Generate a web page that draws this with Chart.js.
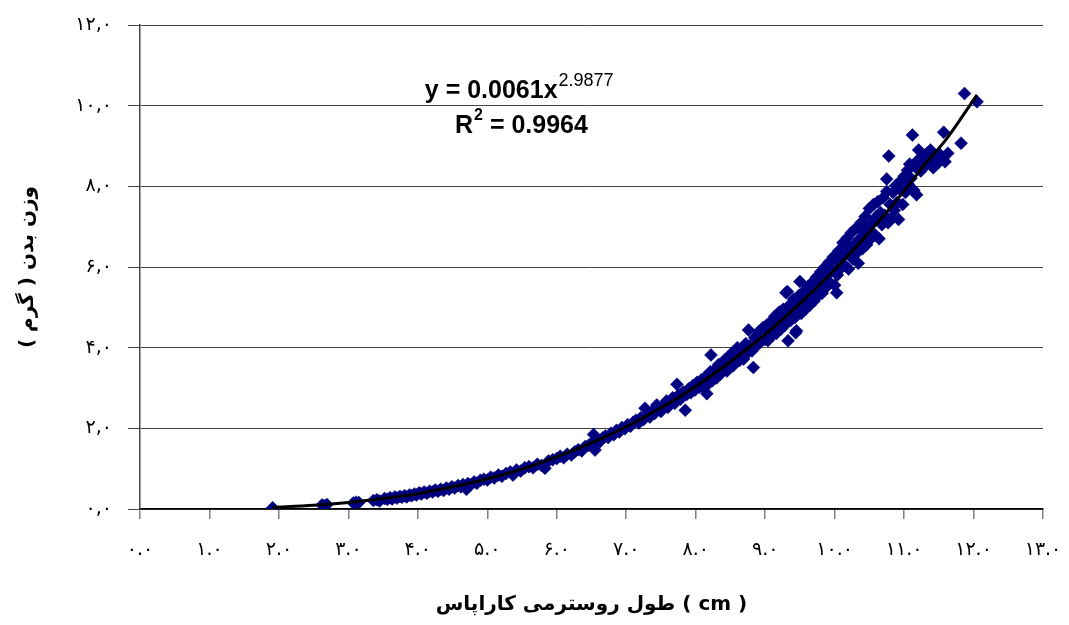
<!DOCTYPE html>
<html>
<head>
<meta charset="utf-8">
<script src="https://cdn.jsdelivr.net/npm/chart.js@4/dist/chart.umd.min.js"></script>
<style>
  html, body { margin: 0; padding: 0; background: #fff; }
  #wrap { width: 1069px; height: 625px; position: relative; }
</style>
</head>
<body>
<div id="wrap"><canvas id="chart-area"></canvas></div>
<script>
// carapace length (cm) vs body weight (g)
var observations = [
    [1.91,0.03],[2.62,0.10],[2.65,0.08],[2.69,0.11],[3.07,0.15],[3.11,0.17],[3.15,0.16],[3.36,0.21],[3.41,0.23],[3.45,0.20],
    [3.52,0.26],[3.56,0.24],[3.60,0.28],[3.63,0.25],[3.67,0.30],[3.70,0.27],[3.74,0.31],[3.77,0.29],[3.81,0.33],[3.84,0.30],
    [3.88,0.35],[3.91,0.33],[3.95,0.37],[3.98,0.35],[4.02,0.40],[4.05,0.37],[4.09,0.42],[4.13,0.39],[4.17,0.44],[4.21,0.42],
    [4.25,0.47],[4.29,0.44],[4.33,0.49],[4.37,0.46],[4.41,0.52],[4.45,0.49],[4.49,0.55],
    [4.53,0.52],[4.58,0.58],[4.62,0.55],[4.65,0.61],[4.70,0.49],[4.72,0.63],[4.76,0.60],[4.81,0.67],[4.85,0.64],[4.90,0.71],
    [4.95,0.74],[5.00,0.72],[5.05,0.79],[5.10,0.77],[5.16,0.84],[5.21,0.81],[5.27,0.88],[5.33,0.92],[5.37,0.84],[5.42,0.97],
    [5.48,0.94],[5.54,1.02],[5.60,1.05],[5.66,1.02],[5.72,1.11],[5.78,1.08],[5.83,1.01],[5.88,1.19],[5.94,1.22],[6.00,1.25],
    [6.05,1.31],[6.10,1.27],[6.15,1.36],[6.21,1.34],[6.26,1.42],
    [6.31,1.47],[6.36,1.44],[6.41,1.55],[6.46,1.58],[6.50,1.63],[6.53,1.85],[6.55,1.46],[6.58,1.70],[6.62,1.67],[6.66,1.76],
    [6.70,1.81],[6.74,1.77],[6.78,1.88],[6.82,1.84],[6.86,1.95],[6.90,1.91],[6.94,2.02],[6.98,1.99],[7.02,2.09],[7.06,2.05],
    [7.10,2.15],[7.14,2.20],[7.18,2.13],[7.21,2.26],[7.25,2.22],[7.27,2.50],[7.30,2.33],[7.34,2.28],[7.37,2.41],[7.41,2.37],
    [7.44,2.58],[7.47,2.47],[7.50,2.42],[7.54,2.56],[7.58,2.68],[7.60,2.52],[7.64,2.65],[7.67,2.76],[7.70,2.62],[7.73,3.09],
    [7.75,2.82],[7.78,2.72],[7.82,2.90],[7.85,2.45],[7.87,2.84],[7.90,2.98],[7.93,2.88],[7.96,3.06],[7.99,2.95],[8.02,3.14],
    [8.05,3.02],
    [8.08,3.20],[8.11,3.02],[8.14,3.28],[8.16,2.86],[8.18,3.10],[8.21,3.40],[8.22,3.82],[8.24,3.18],[8.27,3.45],[8.30,3.25],
    [8.33,3.58],[8.36,3.35],[8.39,3.48],[8.42,3.70],[8.45,3.42],[8.48,3.62],[8.51,3.85],[8.54,3.55],[8.57,3.75],[8.60,4.00],
    [8.63,3.68],[8.66,3.90],[8.69,3.72],[8.72,4.10],[8.75,3.88],[8.76,4.44],[8.78,4.05],[8.81,3.92],[8.83,3.51],[8.85,4.25],
    [8.88,4.05],[8.91,4.40],[8.94,4.15],[8.97,4.50],[9.00,4.20],
    [9.02,4.55],[9.04,4.18],[9.06,4.40],[9.08,4.65],[9.10,4.30],[9.12,4.52],[9.14,4.78],[9.16,4.35],[9.18,4.62],[9.20,4.88],
    [9.22,4.45],[9.24,4.72],[9.26,4.95],[9.28,4.55],[9.30,5.36],[9.31,4.80],[9.32,5.39],[9.33,4.17],[9.35,5.05],[9.37,4.68],
    [9.39,4.92],[9.41,5.20],[9.43,4.75],[9.44,4.37],[9.45,4.42],[9.47,5.02],[9.49,5.30],[9.50,5.64],[9.52,4.85],[9.54,5.12],
    [9.56,5.40],[9.58,4.95],[9.60,5.25],[9.62,5.52],[9.64,5.05],[9.66,5.35],[9.68,5.62],[9.70,5.15],[9.72,5.45],[9.74,5.75],
    [9.76,5.28],[9.78,5.55],[9.80,5.88],[9.82,5.35],[9.84,5.68],[9.86,6.00],[9.88,5.50],[9.90,5.80],[9.92,6.12],[9.94,5.60],
    [9.96,5.92],[9.98,6.25],[10.00,5.55],
    [10.02,6.15],[10.03,5.36],[10.04,5.80],[10.06,6.40],[10.08,5.95],[10.10,6.25],[10.12,6.60],[10.14,6.05],[10.16,6.35],[10.18,6.72],
    [10.20,5.95],[10.22,6.50],[10.24,6.85],[10.26,6.20],[10.28,6.55],[10.30,6.95],[10.32,6.35],[10.34,6.09],[10.36,6.70],[10.38,7.10],
    [10.40,6.45],[10.42,6.85],[10.44,7.25],[10.46,6.55],[10.48,7.00],[10.50,7.45],[10.52,6.70],[10.54,7.10],[10.56,7.55],[10.58,6.80],
    [10.60,7.25],[10.62,7.62],[10.64,6.70],[10.66,7.35],[10.68,7.05],[10.70,7.72],[10.72,7.28],[10.75,8.18],[10.75,7.87],[10.77,7.10],
    [10.78,8.75],[10.80,7.55],[10.82,7.20],[10.84,7.85],[10.86,7.40],[10.88,8.02],[10.90,7.60],[10.92,7.18],[10.94,7.92],[10.96,8.15],
    [10.98,7.55],
    [11.00,8.25],[11.02,7.85],[11.05,8.40],[11.06,8.05],[11.08,8.55],[11.10,8.20],[11.12,9.27],[11.14,7.90],[11.16,8.48],[11.18,7.79],
    [11.20,8.65],[11.21,8.90],[11.24,8.38],[11.26,8.72],[11.30,8.50],[11.33,8.82],[11.36,8.58],[11.38,8.90],[11.42,8.46],[11.46,8.70],
    [11.50,8.60],[11.52,8.78],[11.57,9.34],[11.59,8.61],[11.63,8.82],[11.82,9.07],[11.87,10.30],[12.05,10.10]
];

// fitted curve as drawn on the picture
var trendLength = [1.91, 2.5, 3.0, 3.5, 4.0, 4.5, 5.0, 5.5, 6.0, 6.5, 7.0, 7.5, 8.0, 8.5, 9.0, 9.5, 10.0, 10.5, 11.0, 11.3, 11.6, 12.05];
var trendWeight = [0.04, 0.09, 0.16, 0.26, 0.38, 0.55, 0.75, 0.99, 1.29, 1.64, 2.04, 2.51, 3.04, 3.65, 4.33, 5.09, 5.93, 6.86, 7.88, 8.55, 9.15, 10.27];

var xTickLabels = ['۰.۰', '۱.۰', '۲.۰', '۳.۰', '۴.۰', '۵.۰', '۶.۰', '۷.۰', '۸.۰', '۹.۰', '۱۰.۰', '۱۱.۰', '۱۲.۰', '۱۳.۰'];
var yTickLabels = ['۰,۰', '', '۲,۰', '', '۴,۰', '', '۶,۰', '', '۸,۰', '', '۱۰,۰', '', '۱۲,۰'];

var xTitle = 'طول روسترمی کاراپاس ( cm )';
var yTitle = 'وزن بدن ( گرم )';
var fitEquation = ['y = 0.0061x', '2.9877'];
var fitR2 = ['R', '2', ' = 0.9964'];

var arabicFont = '"DejaVu Sans", sans-serif';
var latinFont = '"Liberation Sans", Arial, sans-serif';

var fitLabel = {
    id: 'fitLabel',
    afterDatasetsDraw: function (chart) {
        var ctx = chart.ctx;
        var xs = chart.scales.x, ys = chart.scales.y;
        ctx.save();
        ctx.fillStyle = '#000';
        ctx.textAlign = 'left';
        ctx.textBaseline = 'alphabetic';

        var x = xs.getPixelForValue(4.10), y = ys.getPixelForValue(10.19);
        ctx.font = 'bold 25px ' + latinFont;
        ctx.fillText(fitEquation[0], x, y);
        var w = ctx.measureText(fitEquation[0]).width;
        ctx.font = '18px ' + latinFont;
        ctx.fillText(fitEquation[1], x + w + 1, y - 12);

        x = xs.getPixelForValue(4.535);
        y = ys.getPixelForValue(9.32);
        ctx.font = 'bold 25px ' + latinFont;
        ctx.fillText(fitR2[0], x, y);
        w = ctx.measureText(fitR2[0]).width;
        ctx.font = 'bold 16px ' + latinFont;
        ctx.fillText(fitR2[1], x + w + 1, y - 13);
        var w2 = ctx.measureText(fitR2[1]).width;
        ctx.font = 'bold 25px ' + latinFont;
        ctx.fillText(fitR2[2], x + w + w2 + 1, y);
        ctx.restore();
    }
};

var ctx = "chart-area";
window.chart = new Chart(ctx, {
    type: "scatter",
    data: {
        datasets: [{
            label: 'trend',
            data: trendLength.map(function (v, i) { return {x: v, y: trendWeight[i]}; }),
            showLine: true,
            borderColor: '#000',
            borderWidth: 3,
            pointRadius: 0,
            cubicInterpolationMode: 'monotone',
            fill: false
        }, {
            label: 'samples',
            data: observations.map(function (p) { return {x: p[0], y: p[1]}; }),
            pointStyle: 'rectRot',
            pointRadius: 6.5,
            pointHoverRadius: 6.5,
            backgroundColor: '#000080',
            borderColor: '#000080',
            borderWidth: 0.5
        }]
    },
    options: {
        responsive: true,
        maintainAspectRatio: false,
        animation: false,
        events: [],
        layout: { padding: { left: 0, right: 26, top: 25, bottom: 0 } },
        plugins: { legend: { display: false }, tooltip: { enabled: false } },
        scales: {
            x: {
                type: 'linear',
                min: 0,
                max: 13,
                afterFit: function (scale) {
                    scale.height = 116;
                    scale.paddingLeft = 0;
                    scale.paddingRight = 0;
                },
                ticks: {
                    stepSize: 1,
                    padding: 20,
                    color: '#000',
                    font: { family: arabicFont, size: 19 },
                    callback: function (v) { return xTickLabels[Math.round(v)]; },
                    maxRotation: 0
                },
                grid: { drawOnChartArea: false, drawTicks: true, tickLength: 10, color: '#808080', lineWidth: 1.5 },
                border: { color: '#000', width: 1.5 },
                title: {
                    display: true,
                    text: xTitle,
                    color: '#000',
                    font: { family: arabicFont, size: 20, weight: 'bold' },
                    padding: { top: 0, bottom: 8 }
                }
            },
            y: {
                type: 'linear',
                min: 0,
                max: 12,
                afterFit: function (scale) {
                    scale.width = 140;
                    scale.paddingTop = 0;
                    scale.paddingBottom = 0;
                },
                ticks: {
                    stepSize: 2,
                    padding: 16,
                    color: '#000',
                    font: { family: arabicFont, size: 19 },
                    callback: function (v) { return yTickLabels[Math.round(v)]; }
                },
                grid: { color: '#444', lineWidth: 1, tickLength: 12 },
                border: { color: '#444', width: 1.5 },
                title: {
                    display: true,
                    text: yTitle,
                    color: '#000',
                    font: { family: arabicFont, size: 20, weight: 'bold' },
                    padding: { top: 16, bottom: 0 }
                }
            }
        }
    },
    plugins: [fitLabel]
});
</script>
</body>
</html>
